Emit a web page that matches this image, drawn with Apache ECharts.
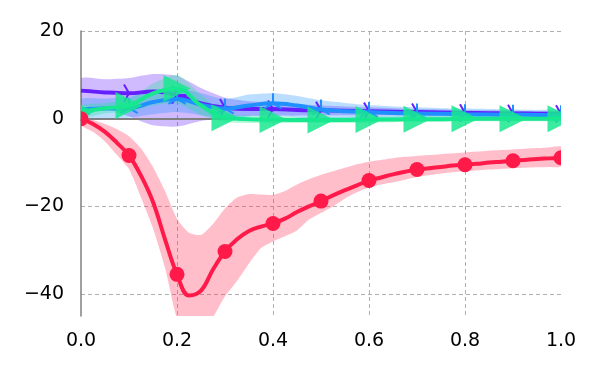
<!DOCTYPE html>
<html>
<head>
<meta charset="utf-8">
<script src="https://cdn.jsdelivr.net/npm/echarts@6/dist/echarts.min.js"></script>
<style>
  html, body { margin: 0; padding: 0; background: #fff; }
  #chart { width: 600px; height: 375px; }
</style>
</head>
<body>
<div id="chart"></div>
<script>
// x positions (fine grid for the red run, coarse grid for the others)
var xsFine = [0, 0.025, 0.05, 0.075, 0.1, 0.125, 0.15, 0.175, 0.2, 0.225, 0.25, 0.275, 0.3, 0.325, 0.35, 0.375, 0.4,
  0.425, 0.45, 0.475, 0.5, 0.525, 0.55, 0.575, 0.6, 0.625, 0.65, 0.675, 0.7, 0.725, 0.75, 0.775, 0.8,
  0.825, 0.85, 0.875, 0.9, 0.925, 0.95, 0.975, 1];
var xsCoarse = [0, 0.05, 0.1, 0.15, 0.2, 0.25, 0.3, 0.35, 0.4, 0.45, 0.5, 0.55, 0.6, 0.65, 0.7, 0.75, 0.8, 0.85, 0.9, 0.95, 1];

var redLine = [0, -1.2, -3.0, -5.5, -8.4, -13.0, -19.0, -27.5, -35.5, -40.3, -39.2, -34.4, -30.3, -27.5, -25.6, -24.6, -23.9,
  -22.8, -21.3, -20.0, -18.8, -17.5, -16.3, -15.2, -14.1, -13.4, -12.7, -12.1, -11.6, -11.3, -11.0, -10.7, -10.5,
  -10.3, -10.0, -9.8, -9.6, -9.4, -9.2, -9.05, -8.9];
var redUpper = [0.5, -0.3, -1.2, -2.4, -4.0, -6.8, -11.0, -16.5, -22.8, -26.0, -26.5, -24.0, -20.5, -18.0, -17.2, -17.3, -17.4,
  -16.5, -15.0, -13.8, -12.8, -12.0, -11.2, -10.4, -9.8, -9.4, -9.0, -8.7, -8.5, -8.3, -8.1, -7.9, -7.7,
  -7.5, -7.3, -7.15, -7.0, -6.85, -6.7, -6.55, -6.4];
var redLower = [-1.5, -3.0, -5.2, -8.3, -11.5, -18.0, -25.0, -34.0, -45.5, -50.0, -49.0, -45.3, -40.5, -37.0, -33.0, -29.5, -28.0,
  -26.8, -25.5, -23.0, -21.5, -20.0, -18.2, -16.8, -15.7, -15.0, -14.5, -13.9, -13.3, -12.9, -12.5, -12.2, -12.0,
  -11.8, -11.6, -11.45, -11.3, -11.2, -11.1, -11.0, -10.9];

var purpleLine = [6.4, 6.0, 5.8, 6.2, 5.4, 3.5, 2.5, 2.2, 2.2, 2.0, 1.9, 1.8, 1.7, 1.6, 1.5, 1.4, 1.3, 1.25, 1.2, 1.15, 1.1];
var purpleUpper = [9.2, 9.0, 9.3, 10.2, 9.8, 7.0, 4.8, 4.0, 3.8, 3.4, 3.0, 2.8, 2.6, 2.4, 2.2, 2.1, 2.0, 1.9, 1.8, 1.7, 1.6];
var purpleLower = [3.2, 2.5, 0.5, -1.5, -1.8, -0.5, 0.3, 0.6, 0.7, 0.7, 0.8, 0.8, 0.8, 0.8, 0.8, 0.7, 0.6, 0.6, 0.6, 0.6, 0.6];

var blueLine = [2.2, 2.3, 2.4, 3.8, 4.5, 3.2, 2.3, 3.0, 3.5, 3.0, 2.1, 1.7, 1.5, 1.3, 1.2, 1.1, 1.0, 0.95, 0.9, 0.85, 0.8];
var blueUpper = [4.5, 4.6, 5.0, 6.5, 7.0, 5.8, 4.5, 5.5, 5.8, 5.2, 4.2, 3.6, 3.1, 2.8, 2.6, 2.4, 2.3, 2.2, 2.1, 2.0, 1.9];
var blueLower = [0.0, 0.1, 0.2, 1.0, 1.5, 0.8, 0.0, 0.5, 0.6, 0.3, -0.2, -0.4, -0.5, -0.5, -0.5, -0.4, -0.4, -0.4, -0.4, -0.4, -0.4];

var greenLine = [1.6, 2.4, 3.0, 5.8, 6.9, 3.0, 0.2, -0.1, -0.2, -0.3, -0.3, -0.3, -0.2, -0.2, -0.1, -0.1, 0, 0, 0, 0, 0];
var greenUpper = [3.0, 3.6, 4.5, 8.0, 10.0, 5.5, 1.2, 0.7, 0.6, 0.4, 0.4, 0.4, 0.5, 0.5, 0.6, 0.6, 0.6, 0.6, 0.6, 0.6, 0.6];
var greenLower = [0.2, 1.2, 1.5, 3.0, 3.5, 0.8, -0.8, -1.0, -1.0, -1.0, -1.0, -1.0, -0.9, -0.8, -0.7, -0.7, -0.6, -0.6, -0.6, -0.6, -0.6];

var RED = '#ff1a4a', PURPLE = '#651fff', BLUE = '#1e90ff', GREEN = '#17e88f';

function pairs(xs, ys) {
  return xs.map(function (x, i) { return [x, ys[i]]; });
}
// markers only sit on the 0.1 steps
function markerPoints(xs, ys) {
  return pairs(xs, ys).filter(function (p) {
    return Math.abs(p[0] * 10 - Math.round(p[0] * 10)) < 1e-6;
  });
}

// shaded band: one polygon, upper edge forward then lower edge back
function band(xs, lo, up, fill) {
  var rows = xs.map(function (x, i) { return [x, lo[i], up[i]]; });
  return {
    type: 'custom', clip: true, z: 2, silent: true,
    data: rows,
    encode: { x: 0, y: [1, 2] },
    renderItem: function (params, api) {
      if (params.dataIndex !== 0) return null;
      var top = rows.map(function (r) { return api.coord([r[0], r[2]]); });
      var bottom = rows.map(function (r) { return api.coord([r[0], r[1]]); }).reverse();
      return {
        type: 'polygon',
        shape: { points: top.concat(bottom), smooth: 0.2 },
        style: { fill: fill }
      };
    }
  };
}

function line(xs, ys, color, z) {
  return {
    type: 'line', data: pairs(xs, ys), smooth: 0.4, showSymbol: false, z: z,
    lineStyle: { color: color, width: 4 }, silent: true
  };
}

function markers(xs, ys, z, draw) {
  return {
    type: 'custom', clip: true, z: z, silent: true,
    data: markerPoints(xs, ys),
    renderItem: function (params, api) {
      var p = api.coord([api.value(0), api.value(1)]);
      return draw(p[0], p[1]);
    }
  };
}

function spokes(x, y, ends, color) {
  return {
    type: 'group',
    children: ends.map(function (e) {
      return {
        type: 'line',
        shape: { x1: x, y1: y, x2: x + e[0], y2: y + e[1] },
        style: { stroke: color, lineWidth: 2 }
      };
    })
  };
}

var series = [
  band(xsCoarse, purpleLower, purpleUpper, 'rgba(101,31,255,0.3)'),
  band(xsCoarse, blueLower, blueUpper, 'rgba(30,144,255,0.3)'),
  band(xsCoarse, greenLower, greenUpper, 'rgba(23,232,143,0.3)'),
  band(xsFine, redLower, redUpper, 'rgba(255,40,80,0.3)'),
  {
    type: 'line', data: [], z: 3, silent: true,
    markLine: {
      silent: true, symbol: 'none', label: { show: false },
      lineStyle: { color: '#808080', width: 2, type: 'solid' },
      data: [{ yAxis: 0 }]
    }
  },
  line(xsCoarse, purpleLine, PURPLE, 4),
  markers(xsCoarse, purpleLine, 5, function (x, y) {
    return spokes(x, y, [[10, 0], [-5, -8.66], [-5, 8.66]], PURPLE);
  }),
  line(xsCoarse, blueLine, BLUE, 6),
  markers(xsCoarse, blueLine, 7, function (x, y) {
    return spokes(x, y, [[0, -10], [8.66, 5], [-8.66, 5]], BLUE);
  }),
  line(xsCoarse, greenLine, GREEN, 8),
  markers(xsCoarse, greenLine, 9, function (x, y) {
    return {
      type: 'polygon',
      shape: { points: [[x + 13.5, y], [x - 13.5, y - 13.5], [x - 13.5, y + 13.5]] },
      style: { fill: GREEN, opacity: 0.85 }
    };
  }),
  line(xsFine, redLine, RED, 10),
  markers(xsFine, redLine, 11, function (x, y) {
    return { type: 'circle', shape: { cx: x, cy: y, r: 7.5 }, style: { fill: RED } };
  })
];

var myChart = echarts.init(document.getElementById('chart'));
var option = {
  animation: false,
  backgroundColor: '#fff',
  grid: { left: 81, right: 39, top: 31, bottom: 59 },
  xAxis: {
    type: 'value', min: 0, max: 1, interval: 0.2,
    axisLine: { show: false },
    axisTick: { show: false },
    axisLabel: {
      margin: 16, color: '#000', fontSize: 19, fontFamily: 'DejaVu Sans',
      formatter: function (v) { return v.toFixed(1); }
    },
    splitLine: {
      show: true, showMinLine: false, showMaxLine: false,
      lineStyle: { color: '#b0b0b0', type: [4, 3], width: 1 }
    }
  },
  yAxis: {
    type: 'value', min: -45, max: 20, splitNumber: 3,
    axisLine: { show: true, lineStyle: { color: '#808080', width: 1.5 } },
    axisTick: { show: false },
    axisLabel: {
      margin: 17, color: '#000', fontSize: 19, fontFamily: 'DejaVu Sans',
      showMinLabel: false,
      formatter: function (v) { return v < 0 ? '\u2212' + Math.abs(v) : String(v); }
    },
    splitLine: {
      show: true, showMinLine: false,
      lineStyle: { color: '#b0b0b0', type: [4, 3], width: 1 }
    }
  },
  series: series
};
myChart.setOption(option);
</script>
</body>
</html>
